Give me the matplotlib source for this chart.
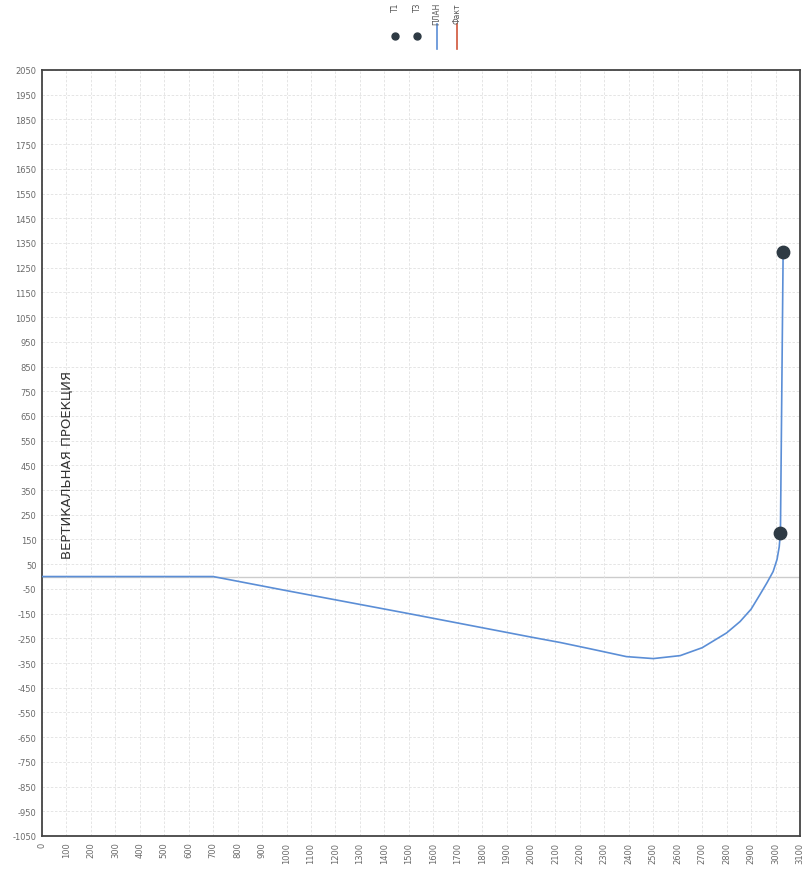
import matplotlib
matplotlib.use("Agg")
import matplotlib.pyplot as plt
from matplotlib.lines import Line2D

# ---- data ----
plan_x = [0, 700, 1000, 1500, 2000, 2120, 2240, 2390, 2500, 2610, 2700, 2800, 2855, 2900, 2935, 2965, 2990, 3006, 3015, 3020, 3031]
plan_y = [0, 0, -57, -150, -245, -267, -292, -324, -332, -320, -288, -228, -182, -132, -75, -25, 20, 69, 120, 178, 1312]
t1_x = [3031]
t1_y = [1312]
t3_x = [3020]
t3_y = [178]
fact_x = []
fact_y = []
legend_names = ["T1", "T3", "ПЛАН", "Факт"]
x_ticks = list(range(0, 3101, 100))
y_ticks = list(range(-1050, 2051, 100))
axis_title = "ВЕРТИКАЛЬНАЯ ПРОЕКЦИЯ"

plt.rcParams['font.family'] = ['DejaVu Sans']

W, H = 806, 878
fig = plt.figure(figsize=(W / 100, H / 100), dpi=100)
ax = fig.add_axes([42 / W, 1 - 837 / H, (800 - 42) / W, (837 - 71) / H])

plan_color = "#5b8ed6"
fact_color = "#d0553a"
marker_color = "#2e3a44"

ax.plot(plan_x, plan_y, color=plan_color, lw=1.2, zorder=3, solid_joinstyle="round")
ax.plot(fact_x, fact_y, color=fact_color, lw=1.2, zorder=3)
ax.scatter(t1_x, t1_y, s=80, color=marker_color, zorder=4)
ax.scatter(t3_x, t3_y, s=80, color=marker_color, zorder=4)

ax.set_xlim(0, 3100)
ax.set_ylim(-1050, 2050)
ax.set_xticks(x_ticks)
ax.set_yticks(y_ticks)
ax.set_xticklabels([str(v) for v in x_ticks], rotation=90, fontsize=6, color="#6a6a6a")
ax.set_yticklabels([str(v) for v in y_ticks], fontsize=6, color="#6a6a6a")
ax.tick_params(length=0, pad=4)
ax.grid(True, color="#e0e0e0", lw=0.6, ls=(0, (3, 2)))
ax.axhline(0, color="#cccccc", lw=1.0, zorder=1)
for s in ax.spines.values():
    s.set_color("#444444")
    s.set_linewidth(1.3)

ax.text(0.032, 0.486, axis_title, transform=ax.transAxes, rotation=90,
        fontsize=9.5, color="#333333", ha="center", va="center")

# ---- legend (rotated, manual) ----
leg_x = [395, 417, 437, 457]
for i, name in enumerate(legend_names):
    xf = leg_x[i] / W
    fig.text(xf, 1 - 3 / H, name, rotation=90, fontsize=5.5, color="#555555",
             ha="center", va="top")
    if i < 2:
        fig.add_artist(Line2D([xf], [1 - 37 / H], marker="o", ms=5,
                              color=marker_color, transform=fig.transFigure))
    else:
        c = plan_color if i == 2 else fact_color
        fig.add_artist(Line2D([xf, xf], [1 - 25 / H, 1 - 50 / H], lw=1.2,
                              color=c, transform=fig.transFigure))

fig.savefig("out.png", dpi=100)
